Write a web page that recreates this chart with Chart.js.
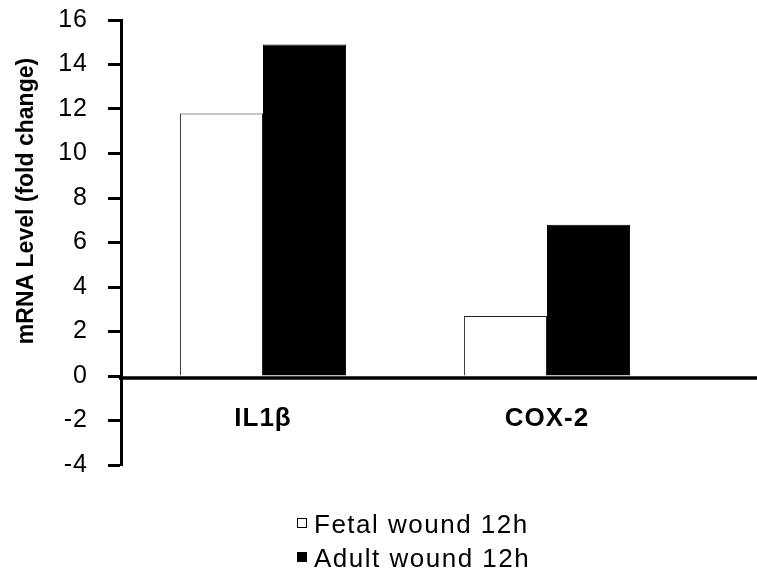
<!DOCTYPE html>
<html>
<head>
<meta charset="utf-8">
<script src="https://cdn.jsdelivr.net/npm/chart.js@4/dist/chart.umd.min.js"></script>
<style>
  html, body { margin: 0; padding: 0; background: #fff; }
  #wrap { position: relative; width: 757px; height: 577px; }
</style>
</head>
<body>
<div id="wrap"><canvas id="mrnaChart"></canvas></div>
<script>
const genes = ['IL1\u03b2', 'COX-2'];
const fetal12h = [11.8, 2.7];
const adult12h = [14.9, 6.8];
const yTicks = [-4, -2, 0, 2, 4, 6, 8, 10, 12, 14, 16];
const seriesNames = ['Fetal wound 12h', 'Adult wound 12h'];
const yTitle = 'mRNA Level (fold change)';

const FONT = '"Liberation Sans", Arial, sans-serif';

// the old excel-ish text is a bit wide, so space the letters out a little
const spacing = {
  id: 'spacing',
  beforeDraw(chart) {
    chart.ctx.letterSpacing = '1px';
  }
};

// zero line runs past the last category to the page edge
const zeroLine = {
  id: 'zeroLine',
  afterDatasetsDraw(chart) {
    const ctx = chart.ctx;
    const y = chart.scales.y.getPixelForValue(0) + 2;
    ctx.save();
    ctx.strokeStyle = '#000';
    ctx.lineWidth = 3.5;
    ctx.beginPath();
    ctx.moveTo(chart.chartArea.left - 2, y);
    ctx.lineTo(chart.width, y);
    ctx.stroke();
    ctx.restore();
  }
};

// rotated y title, sits a bit above the axis middle like the original
const sideTitle = {
  id: 'sideTitle',
  afterDraw(chart) {
    const ctx = chart.ctx;
    ctx.save();
    ctx.letterSpacing = '0px';
    ctx.translate(27, 201);
    ctx.rotate(-Math.PI / 2);
    ctx.font = 'bold 23px ' + FONT;
    ctx.fillStyle = '#000';
    ctx.textAlign = 'center';
    ctx.textBaseline = 'middle';
    ctx.fillText(yTitle, 0, 0);
    ctx.restore();
  }
};

// two-line legend under the plot
const stackedLegend = {
  id: 'stackedLegend',
  afterDraw(chart) {
    const ctx = chart.ctx;
    ctx.save();
    ctx.font = '26px ' + FONT;
    ctx.letterSpacing = '1.5px';
    ctx.textBaseline = 'alphabetic';
    ctx.textAlign = 'left';
    chart.data.datasets.forEach((ds, i) => {
      const base = 533 + i * 34;
      ctx.fillStyle = ds.backgroundColor;
      ctx.strokeStyle = '#000';
      ctx.lineWidth = 1;
      ctx.fillRect(297, base - 15, 10, 10);
      ctx.strokeRect(297.5, base - 14.5, 9, 9);
      ctx.fillStyle = '#000';
      ctx.fillText(ds.label, 314, base);
    });
    ctx.restore();
  }
};

const ctx = document.getElementById('mrnaChart').getContext('2d');
new Chart(ctx, {
  type: 'bar',
  data: {
    labels: genes,
    datasets: [
      {
        label: seriesNames[0],
        data: fetal12h,
        backgroundColor: '#ffffff',
        borderColor: '#222',
        borderWidth: 1,
        borderSkipped: 'start',
      },
      {
        label: seriesNames[1],
        data: adult12h,
        backgroundColor: '#000000',
        borderColor: '#000',
        borderWidth: 1,
        borderSkipped: 'start',
      },
    ],
  },
  options: {
    responsive: true,
    maintainAspectRatio: false,
    animation: false,
    layout: {
      padding: { left: 0, right: 68, top: 20, bottom: 112 },
    },
    plugins: {
      legend: { display: false },
      tooltip: { enabled: false },
    },
    datasets: {
      bar: { categoryPercentage: 0.585, barPercentage: 1.0 },
    },
    scales: {
      x: {
        type: 'category',
        position: { y: 0 },
        grid: { display: false },
        border: { display: false },
        ticks: {
          color: '#000',
          font: { family: FONT, size: 26, weight: 'bold' },
          padding: 19,
        },
        afterFit: function (scale) {
          scale.height = 40;
          scale.paddingTop = 0;
          scale.paddingBottom = 0;
        },
      },
      y: {
        min: -4,
        max: 16,
        afterBuildTicks: function (scale) {
          scale.ticks = yTicks.map(v => ({ value: v }));
        },
        grid: {
          drawOnChartArea: false,
          drawTicks: true,
          tickLength: 13,
          tickWidth: 3,
          tickColor: '#000',
          color: '#000',
        },
        border: { display: true, width: 3, color: '#000' },
        ticks: {
          color: '#000',
          font: { family: FONT, size: 25 },
          padding: 20,
        },
        afterFit: function (scale) {
          scale.width = 121;
          scale.paddingTop = 0;
          scale.paddingBottom = 0;
        },
      },
    },
  },
  plugins: [spacing, zeroLine, sideTitle, stackedLegend],
});
</script>
</body>
</html>
